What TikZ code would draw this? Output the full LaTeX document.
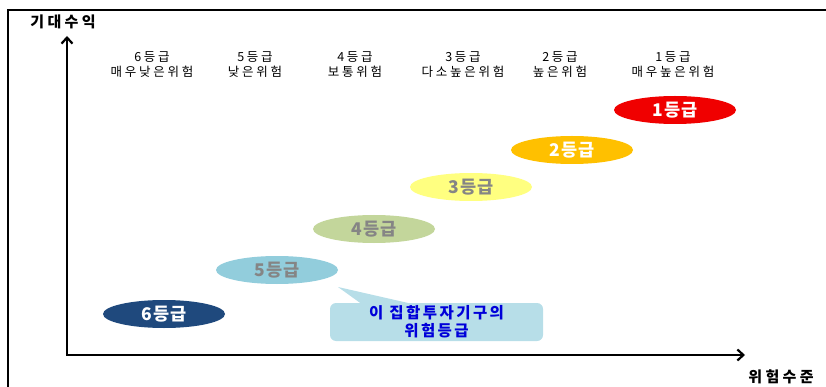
\documentclass[tikz,border=0pt]{standalone}
\usepackage{fontspec}
\setmainfont{Noto Sans CJK KR}
\newfontfamily\spaced[LetterSpace=22]{Noto Sans CJK KR}
\newfontfamily\wide[LetterSpace=16]{Noto Sans CJK KR}
\newfontfamily\slight[LetterSpace=8]{Noto Sans CJK KR}
\usetikzlibrary{shapes.geometric,arrows.meta}
\definecolor{gOne}{HTML}{F00000}
\definecolor{gTwo}{HTML}{FFC000}
\definecolor{gThree}{HTML}{FFFF80}
\definecolor{gFour}{HTML}{C3D69B}
\definecolor{gFive}{HTML}{92CDDC}
\definecolor{gSix}{HTML}{1F497D}
\definecolor{callfill}{HTML}{B7DEE8}
\definecolor{greytext}{HTML}{858585}
\begin{document}
\begin{tikzpicture}[x=1pt,y=-1pt,
  grade/.style={ellipse,minimum width=122pt,minimum height=28pt,inner sep=0pt,font=\slight\fontsize{17.5}{17.5}\selectfont\bfseries},
  toplabel/.style={align=center,font=\spaced\fontsize{12.5}{15}\selectfont},
  axislabel/.style={font=\spaced\fontsize{15}{15}\selectfont\bfseries},
  axisline/.style={line width=2.2pt,-{Straight Barb[length=6pt,width=11pt,line width=2.2pt]}}]
\useasboundingbox (0,0) rectangle (826,387);
\draw[line width=1.5pt] (8,387) -- (8,10) -- (826,10);
% axes
\coordinate (O) at (67,355);
\coordinate (Ytop) at (67,36);
\coordinate (Xend) at (745,355);
\draw[axisline] (O) -- (Ytop);
\draw[axisline] ([xshift=-1.1pt]O) -- (Xend);
\node[axislabel] (ylab) at (63,22) {기대수익};
\node[axislabel] (xlab) at (781,377) {위험수준};
% top labels
\node[toplabel] (t6) at (152,65) {6등급\\매우낮은위험};
\node[toplabel] (t5) at (255,65) {5등급\\낮은위험};
\node[toplabel] (t4) at (355,65) {4등급\\보통위험};
\node[toplabel] (t3) at (463,65) {3등급\\다소높은위험};
\node[toplabel] (t2) at (560,65) {2등급\\높은위험};
\node[toplabel] (t1) at (673,65) {1등급\\매우높은위험};
% grades
\node[grade,fill=gOne,text=white] (g1) at (675,110) {1등급};
\node[grade,fill=gTwo,text=white] (g2) at (572,150) {2등급};
\node[grade,fill=gThree,text=greytext] (g3) at (471,187) {3등급};
\node[grade,fill=gFour,text=greytext] (g4) at (374,229) {4등급};
\node[grade,fill=gFive,text=greytext] (g5) at (277,270) {5등급};
\node[grade,fill=gSix,text=white] (g6) at (164,314) {6등급};
% callout
\node[fill=callfill,rounded corners=6pt,minimum width=213pt,minimum height=38pt,align=center,
  text=blue!85!black,font=\wide\fontsize{15.5}{18}\selectfont\bfseries,inner sep=0pt] (call) at (436.5,322) {이 집합투자기구의\\위험등급};
\coordinate (tip) at (338,287);
\coordinate (b1) at (363,305);
\coordinate (b2) at (417,305);
\fill[callfill] (tip) -- (b1) -- (b2) -- cycle;
\end{tikzpicture}
\end{document}
